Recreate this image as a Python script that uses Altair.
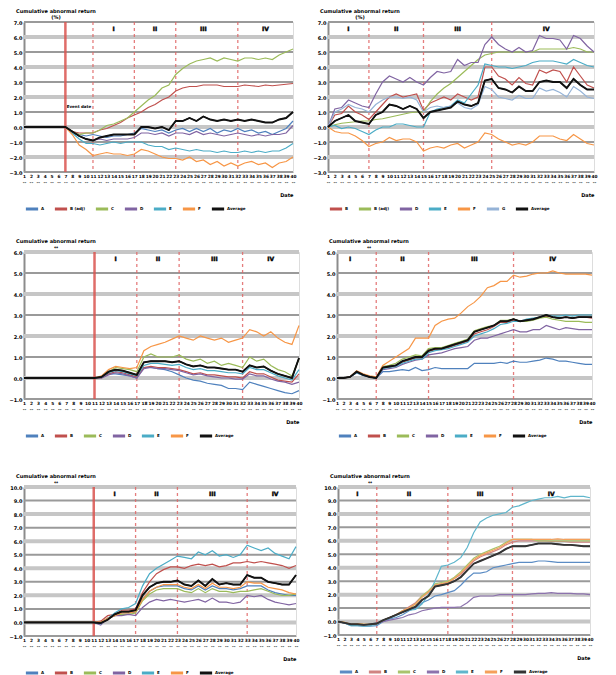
import altair as alt
import pandas as pd

FONT = "DejaVu Sans"
BLUE = "#4f81bd"; RED = "#c0504d"; GREEN = "#9bbb59"; PURPLE = "#8064a2"
CYAN = "#4bacc6"; ORANGE = "#f79646"; BLACK = "#111111"; LIGHTBLUE = "#95b3d7"

# ---------------- Panel 1 ----------------
p1_names = ["A", "B (adj)", "C", "D", "E", "F", "Average"]
p1_colors = [BLUE, RED, GREEN, PURPLE, CYAN, ORANGE, BLACK]
p1_A = [0,0,0,0,0,0,0, -0.3,-0.5,-0.6,-0.5,-0.6,-0.7,-0.6,-0.6,-0.5,-0.4,
        -0.1,-0.2,-0.3,-0.2,-0.4,-0.2,-0.1,-0.3,-0.1,-0.3,-0.1,-0.4,-0.2,-0.3,-0.1,-0.3,-0.2,-0.4,-0.3,-0.5,-0.3,-0.1,0.4]
p1_B = [0,0,0,0,0,0,0, -0.3,-0.4,-0.4,-0.4,-0.2,-0.1,0.1,0.3,0.6,0.8,
        1.0,1.3,1.5,1.8,2.0,2.4,2.6,2.7,2.7,2.8,2.8,2.8,2.7,2.7,2.7,2.8,2.75,2.7,2.8,2.75,2.8,2.85,2.9]
p1_C = [0,0,0,0,0,0,0, -0.3,-0.5,-0.4,-0.4,-0.2,0.1,0.2,0.4,0.6,1.0,
        1.4,1.8,2.1,2.6,2.8,3.5,3.9,4.2,4.4,4.5,4.6,4.4,4.6,4.5,4.4,4.6,4.6,4.5,4.6,4.5,4.8,5.0,5.2]
p1_D = [0,0,0,0,0,0,0, -0.3,-0.6,-0.8,-0.9,-0.8,-0.9,-0.8,-0.8,-0.8,-0.7,
        -0.4,-0.4,-0.5,-0.4,-0.6,-0.4,-0.4,-0.5,-0.3,-0.5,-0.4,-0.5,-0.6,-0.5,-0.4,-0.5,-0.6,-0.5,-0.6,-0.5,-0.5,-0.4,0.1]
p1_E = [0,0,0,0,0,0,0, -0.4,-0.8,-1.1,-1.1,-1.2,-1.1,-1.0,-1.1,-1.0,-1.0,
        -1.0,-1.2,-1.3,-1.3,-1.5,-1.4,-1.5,-1.6,-1.5,-1.6,-1.6,-1.7,-1.6,-1.7,-1.7,-1.6,-1.7,-1.6,-1.7,-1.6,-1.6,-1.4,-1.1]
p1_F = [0,0,0,0,0,0,0, -0.5,-1.2,-1.5,-1.9,-1.8,-1.7,-1.8,-1.8,-1.9,-1.8,
        -1.5,-1.6,-1.8,-2.0,-2.1,-2.1,-2.2,-2.0,-2.3,-2.2,-2.5,-2.3,-2.6,-2.4,-2.6,-2.4,-2.3,-2.5,-2.4,-2.7,-2.4,-2.3,-2.0]
p1_AVG = [0,0,0,0,0,0,0, -0.3,-0.6,-0.8,-0.9,-0.7,-0.6,-0.5,-0.5,-0.5,-0.5,
          0.0,0.0,-0.1,0.0,-0.2,0.4,0.4,0.6,0.4,0.7,0.5,0.4,0.5,0.4,0.5,0.4,0.5,0.4,0.3,0.3,0.5,0.6,1.0]

# ---------------- Panel 2 ----------------
p2_names = ["B", "B (adj)", "D", "E", "F", "G", "Average"]
p2_colors = [RED, GREEN, PURPLE, CYAN, ORANGE, LIGHTBLUE, BLACK]
p2_B = [0, 0.8,0.9,1.4,1.0,0.8,0.5, 1.0,1.5,2.0,2.2,2.0,2.1,2.2,1.1,
        1.6,1.8,2.0,1.8,2.2,2.0,1.8,2.0,4.0,4.0,
        3.4,3.2,2.8,3.3,2.9,2.8,3.8,3.6,3.8,3.7,3.0,4.0,3.4,2.8,2.6]
p2_C = [0, 0.15,0.25,0.3,0.35,0.4,0.4, 0.5,0.55,0.65,0.75,0.85,0.95,1.0,1.0,
        1.7,2.2,2.6,2.9,3.3,3.7,4.1,4.5,4.8,4.9,
        5.0,5.0,5.0,5.0,5.0,5.0,5.2,5.2,5.2,5.2,5.2,5.3,5.2,5.0,5.0]
p2_D = [0, 1.2,1.3,1.8,1.6,1.4,1.3, 2.2,3.0,3.4,3.2,3.0,3.3,3.0,2.8,
        3.3,3.7,3.6,3.7,4.5,4.1,4.3,4.3,5.5,6.0,
        5.5,5.2,5.0,5.3,5.0,5.1,6.1,5.9,5.9,5.8,5.2,6.1,5.9,5.4,5.0]
p2_E = [0, 0.1,-0.1,0.0,-0.1,-0.3,-0.5, -0.2,0.0,0.0,0.2,0.2,0.1,0.0,0.0,
        1.0,1.2,1.3,1.4,1.8,1.6,2.2,2.8,4.2,4.1,
        4.0,4.0,3.9,4.0,4.1,4.3,4.4,4.4,4.4,4.3,4.2,4.5,4.3,4.1,4.0]
p2_F = [0, -0.3,-0.4,-0.4,-0.6,-0.9,-1.3, -1.1,-1.0,-0.7,-0.9,-0.8,-0.8,-1.0,-1.6,
        -1.4,-1.3,-1.4,-1.2,-1.1,-1.4,-1.2,-1.0,-0.4,-0.5,
        -0.8,-1.0,-1.2,-1.1,-1.2,-1.0,-0.6,-0.6,-0.6,-0.8,-0.9,-0.5,-0.8,-1.1,-1.2]
p2_G = [0, 1.0,1.2,1.5,1.3,1.2,1.0, 1.5,1.8,2.0,2.0,1.9,2.0,1.8,1.0,
        1.3,1.4,1.3,1.4,1.6,1.3,1.2,1.5,2.7,2.5,
        2.0,1.9,1.8,2.1,1.9,1.9,2.6,2.4,2.5,2.3,2.0,2.7,2.4,2.0,1.9]
p2_AVG = [0, 0.4,0.6,0.8,0.4,0.3,0.2, 0.8,1.0,1.5,1.4,1.2,1.4,1.2,0.6,
          1.0,1.1,1.2,1.3,1.7,1.5,1.4,1.6,3.1,3.2,
          2.6,2.5,2.3,2.7,2.4,2.4,3.0,3.1,3.0,3.0,2.6,3.2,2.8,2.5,2.5]

# ---------------- Panel 3 ----------------
p3_names = ["A", "B", "C", "D", "E", "F", "Average"]
p3_colors = [BLUE, RED, GREEN, PURPLE, CYAN, ORANGE, BLACK]
Z11 = [0] * 11
p3_A = Z11 + [0.0,0.2,0.2,0.15,0.1,0.0, 0.5,0.5,0.45,0.4,0.3,0.15,
              0.0,-0.1,-0.15,-0.25,-0.3,-0.35,-0.5,-0.5,-0.55, -0.2,-0.3,-0.4,-0.5,-0.6,-0.7,-0.75,-0.6]
p3_B = Z11 + [0.0,0.2,0.3,0.25,0.15,0.05, 0.5,0.55,0.5,0.5,0.45,0.4,
              0.3,0.2,0.25,0.15,0.15,0.1,0.05,0.05,0.0, 0.3,0.2,0.2,0.05,-0.1,-0.15,-0.2,0.2]
p3_C = Z11 + [0.05,0.3,0.5,0.45,0.4,0.3, 1.0,1.15,1.0,1.0,1.0,1.1,
              0.9,0.8,0.9,0.7,0.8,0.6,0.7,0.6,0.5, 1.0,0.8,0.9,0.6,0.4,0.3,0.1,0.9]
p3_D = Z11 + [0.0,0.15,0.25,0.2,0.1,0.0, 0.45,0.5,0.45,0.45,0.4,0.35,
              0.25,0.15,0.2,0.1,0.05,0.0,0.0,-0.05,-0.05, 0.2,0.1,0.1,-0.05,-0.15,-0.2,-0.3,-0.2]
p3_E = Z11 + [0.05,0.25,0.35,0.3,0.2,0.1, 0.6,0.7,0.7,0.65,0.6,0.65,
              0.5,0.4,0.45,0.35,0.35,0.3,0.25,0.25,0.2, 0.5,0.4,0.4,0.25,0.1,0.0,-0.1,0.4]
p3_F = Z11 + [0.1,0.4,0.55,0.5,0.45,0.5, 1.3,1.5,1.6,1.7,1.85,2.0,
              1.9,1.8,2.0,1.9,1.8,1.9,1.7,1.8,1.9, 2.3,2.2,2.0,2.2,1.9,1.7,1.6,2.5]
p3_AVG = Z11 + [0.05,0.3,0.4,0.35,0.25,0.15, 0.75,0.8,0.8,0.8,0.75,0.8,
                0.65,0.55,0.6,0.5,0.5,0.45,0.4,0.4,0.3, 0.6,0.5,0.55,0.35,0.2,0.1,0.0,0.95]

# ---------------- Panel 4 ----------------
p4_names = ["A", "B", "C", "D", "E", "F", "Average"]
p4_colors = [BLUE, RED, GREEN, PURPLE, CYAN, ORANGE, BLACK]
p4_A = [0,0.0,0.05,0.25,0.12,0.05,0.0, 0.3,0.3,0.35,0.4,0.35,0.5,0.35,0.4,
        0.5,0.45,0.45,0.45,0.45,0.45,0.7,0.7,0.7,0.7,0.75,0.7,0.8,
        0.75,0.75,0.8,0.85,0.95,0.9,0.8,0.8,0.75,0.7,0.65,0.65]
p4_B = [0,0.0,0.05,0.28,0.14,0.05,0.0, 0.5,0.5,0.6,0.75,0.85,0.95,0.95,1.25,
        1.35,1.4,1.45,1.55,1.65,1.75,2.1,2.2,2.3,2.45,2.65,2.65,2.75,
        2.7,2.75,2.8,2.9,2.95,2.9,2.85,2.9,2.85,2.9,2.9,2.85]
p4_C = [0,0.0,0.05,0.3,0.15,0.05,0.0, 0.55,0.6,0.7,0.9,1.0,1.1,1.05,1.4,
        1.45,1.45,1.55,1.65,1.75,1.85,2.25,2.35,2.45,2.5,2.75,2.75,2.8,
        2.7,2.7,2.75,2.85,2.9,2.8,2.75,2.7,2.7,2.7,2.65,2.65]
p4_D = [0,0.0,0.05,0.25,0.12,0.05,0.0, 0.4,0.45,0.5,0.65,0.75,0.85,0.9,1.1,
        1.15,1.2,1.3,1.4,1.45,1.5,1.8,1.9,1.9,2.0,2.1,2.2,2.3,
        2.2,2.2,2.3,2.3,2.5,2.4,2.3,2.4,2.35,2.3,2.3,2.3]
p4_E = [0,0.0,0.05,0.25,0.12,0.05,0.0, 0.45,0.5,0.55,0.7,0.8,0.9,0.9,1.2,
        1.3,1.35,1.4,1.5,1.6,1.7,2.0,2.1,2.2,2.35,2.55,2.6,2.7,
        2.7,2.8,2.85,2.9,3.0,2.95,2.95,3.0,2.95,3.0,3.0,3.0]
p4_F = [0,0.0,0.05,0.35,0.2,0.1,0.05, 0.6,0.8,1.0,1.2,1.4,1.9,1.9,1.9,
        2.5,2.7,2.8,2.85,3.1,3.4,3.6,3.9,4.3,4.4,4.6,4.6,4.9,
        4.8,4.85,4.95,5.0,5.0,5.1,5.0,4.95,4.95,4.95,4.95,4.9]
p4_AVG = [0,0.0,0.05,0.3,0.15,0.05,0.0, 0.5,0.55,0.6,0.8,0.9,1.0,1.0,1.3,
          1.4,1.4,1.5,1.6,1.7,1.8,2.2,2.3,2.4,2.5,2.7,2.7,2.8,
          2.7,2.75,2.8,2.9,3.0,2.9,2.85,2.9,2.85,2.9,2.9,2.9]

# ---------------- Panel 5 ----------------
p5_names = ["A", "B", "C", "D", "E", "F", "Average"]
p5_colors = [BLUE, RED, GREEN, PURPLE, CYAN, ORANGE, BLACK]
p5_A = Z11 + [0.0,0.3,0.5,0.7,0.7,0.75, 1.7,2.3,2.6,2.7,2.7,2.7,
              2.5,2.4,2.7,2.4,2.7,2.5,2.5,2.4,2.5,2.7, 2.7,2.7,2.4,2.2,2.1,2.0,2.0]
p5_B = Z11 + [0.1,0.5,0.6,0.9,0.9,1.0, 2.2,3.0,3.6,3.9,4.1,4.1,
              4.0,4.2,4.3,4.2,4.3,4.1,4.2,4.4,4.4,4.5, 4.4,4.5,4.4,4.3,4.2,4.0,4.2]
p5_C = Z11 + [0.0,0.3,0.5,0.6,0.6,0.7, 1.6,2.1,2.4,2.5,2.5,2.5,
              2.3,2.2,2.5,2.2,2.5,2.3,2.3,2.2,2.3,2.3, 2.4,2.5,2.3,2.1,2.0,2.0,2.1]
p5_D = Z11 + [-0.2,0.3,0.5,0.5,0.6,0.5, 1.1,1.5,1.7,1.6,1.7,1.6,
              1.5,1.6,1.7,1.5,1.8,1.5,1.5,1.4,1.5,2.0, 1.9,2.0,1.7,1.5,1.4,1.3,1.4]
p5_E = Z11 + [-0.1,0.3,0.7,1.0,1.1,1.4, 2.7,3.6,4.0,4.3,4.6,4.9,
              4.8,4.7,5.2,5.0,5.3,4.9,5.0,4.8,5.0,5.7, 5.5,5.3,5.5,5.1,4.9,4.7,5.6]
p5_F = Z11 + [0.0,0.3,0.5,0.7,0.7,0.8, 1.7,2.3,2.6,2.8,2.8,2.8,
              2.6,2.5,2.8,2.5,2.9,2.6,2.6,2.5,2.6,3.0, 2.9,2.9,2.6,2.5,2.4,2.2,2.1]
p5_AVG = Z11 + [-0.05,0.2,0.6,0.8,0.8,0.9, 2.0,2.6,2.9,3.0,3.0,3.1,
                2.8,2.7,3.1,2.7,3.2,2.8,2.9,2.8,2.8,3.5, 3.3,3.3,3.0,2.9,2.8,2.8,3.5]

# ---------------- Panel 6 ----------------
p6_names = ["A", "B", "C", "D", "E", "F", "Average"]
p6_colors = ["#5b8cc4", "#d08482", "#a9c46c", "#8c72ad", "#5fb6cc", "#f5a05a", "#333333"]
p6_A = [0,-0.1,-0.3,-0.3,-0.35,-0.35,-0.3, 0.0,0.2,0.3,0.5,0.8,1.0,1.4,1.6,1.9,2.0,2.15,
        2.3,2.7,3.2,3.6,3.6,3.7,4.0,4.1,4.2,4.3,
        4.4,4.4,4.4,4.5,4.5,4.45,4.4,4.4,4.4,4.4,4.4,4.4]
p6_B = [0,-0.05,-0.2,-0.15,-0.2,-0.2,-0.15, 0.1,0.3,0.5,0.8,1.1,1.4,1.9,2.2,2.7,2.8,2.9,
        3.2,3.5,4.0,4.5,4.8,5.0,5.2,5.4,5.7,5.9,
        6.0,6.0,6.0,6.0,6.0,5.95,5.95,5.95,5.9,5.9,5.9,5.9]
p6_C = [0,-0.05,-0.2,-0.15,-0.2,-0.2,-0.15, 0.1,0.3,0.5,0.8,1.0,1.3,1.9,2.3,2.8,2.9,3.0,
        3.3,3.7,4.2,4.7,5.0,5.2,5.4,5.6,5.9,6.1,
        6.1,6.1,6.1,6.0,6.0,6.0,6.0,6.0,6.0,6.0,6.0,6.0]
p6_D = [0,-0.1,-0.2,-0.2,-0.25,-0.2,-0.1, 0.0,0.1,0.2,0.3,0.5,0.6,0.8,0.9,1.0,1.05,1.05,
        1.05,1.1,1.4,1.8,1.9,1.9,1.9,2.0,2.0,2.0,
        2.0,2.0,2.05,2.1,2.1,2.15,2.1,2.1,2.1,2.05,2.05,2.0]
p6_E = [0,-0.1,-0.3,-0.3,-0.35,-0.3,-0.2, 0.1,0.25,0.45,0.7,0.85,0.9,1.3,2.0,3.0,4.1,4.2,
        4.4,4.75,5.5,6.6,7.4,7.7,7.9,8.0,8.1,8.5,
        8.6,8.8,9.0,9.1,9.2,9.2,9.3,9.2,9.3,9.3,9.3,9.2]
p6_F = [0,-0.05,-0.2,-0.15,-0.2,-0.2,-0.15, 0.1,0.3,0.5,0.8,1.0,1.3,1.8,2.2,2.7,2.8,2.9,
        3.2,3.6,4.1,4.6,4.9,5.1,5.3,5.5,5.8,6.1,
        6.1,6.1,6.1,6.1,6.1,6.1,6.15,6.1,6.1,6.1,6.1,6.1]
p6_AVG = [0,-0.1,-0.2,-0.2,-0.25,-0.2,-0.15, 0.1,0.3,0.5,0.7,0.9,1.1,1.6,1.9,2.6,2.7,2.8,
          3.0,3.3,3.8,4.3,4.5,4.7,4.9,5.1,5.4,5.6,
          5.6,5.6,5.7,5.8,5.8,5.8,5.75,5.7,5.7,5.65,5.6,5.6]

TITLE1 = "Cumulative abnormal return"
SEG = ["I", "II", "III", "IV"]


def panel(names, colors, series, ymin, ymax, event, dashed, seg_pos, width, height,
          title, note=False):
    n = len(series[0])
    rows = []
    for name, vals in zip(names, series):
        for t, v in enumerate(vals):
            rows.append({"t": t, "series": name, "v": v})
    df = pd.DataFrame(rows)
    ticks = list(range(ymin, ymax + 1))
    X = alt.X("t:Q", scale=alt.Scale(domain=[0, n - 1], nice=False, zero=False),
              axis=alt.Axis(values=list(range(n)), labelExpr="[format(datum.value + 1, 'd'), '--']",
                            labelFontSize=4.3, labelFont=FONT, labelFontWeight="bold", labelColor="#000",
                            labelAngle=0, labelOverlap=False, labelFlush=False, labelBound=False,
                            labelPadding=2, ticks=False, grid=False, domainColor="#b0b0b0",
                            domainWidth=1, title="Date", titleAnchor="end", titleFontSize=5,
                            titleFont=FONT, titleFontWeight="bold", titlePadding=8))
    Y = alt.Y("v:Q", scale=alt.Scale(domain=[ymin, ymax], nice=False, zero=False),
              axis=alt.Axis(values=ticks, format=".1f", labelFontSize=5, labelFont=FONT,
                            labelFontWeight="bold", labelColor="#000", labelPadding=2, ticks=False,
                            grid=False, domainColor="#8c8c8c", domainWidth=2, title=None))
    dark = pd.DataFrame({"v": ticks[::2]})
    light = pd.DataFrame({"v": ticks[1::2]})
    band_l = alt.Chart(light).mark_rule(color="#c6c6c6", strokeWidth=4).encode(y=Y)
    band_d = alt.Chart(dark).mark_rule(color="#9a9a9a", strokeWidth=2).encode(y=Y)
    layers = [band_l, band_d]
    if event is not None:
        layers.append(alt.Chart(pd.DataFrame({"t": [event]})).mark_rule(
            color="#d9534f", strokeWidth=2.5, opacity=0.85).encode(x=X))
    layers.append(alt.Chart(pd.DataFrame({"t": dashed})).mark_rule(
        color="#e06666", strokeWidth=1.3, strokeDash=[3, 3], opacity=0.85).encode(x=X))
    C = alt.Color("series:N", scale=alt.Scale(domain=names, range=colors),
                  legend=alt.Legend(orient="bottom", direction="horizontal", title=None,
                                    symbolType="stroke", symbolStrokeWidth=3, symbolSize=150,
                                    labelFontSize=4, labelFont=FONT, labelFontWeight="bold",
                                    labelOffset=1, columns=7, columnPadding=3, padding=0, offset=3))
    base = alt.Chart(df)
    layers.append(base.mark_line(strokeWidth=1.2).encode(x=X, y=Y, color=C, order=alt.Order("t:Q")))
    layers.append(base.transform_filter(alt.datum.series == names[-1]).mark_line(strokeWidth=1.9)
                  .encode(x=X, y=Y, color=C, order=alt.Order("t:Q")))
    seg_df = pd.DataFrame({"t": seg_pos, "v": [ymax - 0.45 * (ymax - ymin) / 10] * len(seg_pos),
                           "s": SEG[:len(seg_pos)]})
    layers.append(alt.Chart(seg_df).mark_text(fontSize=6, fontWeight="bold", font=FONT,
                                              fill="#000000", stroke="#000000", strokeWidth=0.4)
                  .encode(x=X, y=Y, text="s:N"))
    if note:
        note_df = pd.DataFrame({"t": [event + 0.2], "v": [1.35], "s": ["Event date"]})
        layers.append(alt.Chart(note_df).mark_text(fontSize=4, fontWeight="bold", font=FONT,
                                                   align="left", fill="#000000").encode(
            x=X, y=Y, text="s:N"))
    return alt.layer(*layers).properties(
        width=width, height=height,
        title=alt.TitleParams(text=title, fontSize=5, font=FONT, fontWeight="bold",
                              anchor="start", frame="group", dx=32, align="center",
                              lineHeight=6, offset=0))


p1 = panel(p1_names, p1_colors, [p1_A, p1_B, p1_C, p1_D, p1_E, p1_F, p1_AVG],
           -3, 7, 6, [10, 16, 22, 31], [13, 19, 26, 35], 269, 150, [TITLE1, "(%)"], note=True)
p2 = panel(p2_names, p2_colors, [p2_B, p2_C, p2_D, p2_E, p2_F, p2_G, p2_AVG],
           -3, 7, None, [6, 14, 24], [3, 10, 19, 32], 266, 150, [TITLE1, "(%)"])
p3 = panel(p3_names, p3_colors, [p3_A, p3_B, p3_C, p3_D, p3_E, p3_F, p3_AVG],
           -1, 6, 10, [16, 22, 31], [13, 19, 27, 35], 275, 147, [TITLE1, "\u2194"])
p4 = panel(p4_names, p4_colors, [p4_A, p4_B, p4_C, p4_D, p4_E, p4_F, p4_AVG],
           -1, 6, None, [6, 14, 27], [2, 10, 21, 33], 255, 147, [TITLE1, "\u2194"])
p5 = panel(p5_names, p5_colors, [p5_A, p5_B, p5_C, p5_D, p5_E, p5_F, p5_AVG],
           -1, 10, 10, [16, 22, 32], [13, 19, 27, 36], 272, 149, [TITLE1, "\u2194"])
p6 = panel(p6_names, p6_colors, [p6_A, p6_B, p6_C, p6_D, p6_E, p6_F, p6_AVG],
           -1, 10, None, [6, 17, 27], [3, 11, 22, 33], 252, 148, [TITLE1, "\u2194"])

res = dict(x="independent", y="independent", color="independent")
row1 = alt.hconcat(p1, p2, spacing=14).resolve_scale(**res)
row2 = alt.hconcat(p3, p4, spacing=17).resolve_scale(**res)
row3 = alt.hconcat(p5, p6, spacing=21).resolve_scale(**res)
top = alt.vconcat(row1, row2, spacing=22).resolve_scale(**res)
chart = alt.vconcat(top, row3, spacing=30).resolve_scale(**res).properties(
    padding=0).configure_view(strokeWidth=0).configure(background="white")

chart.save("out.html", embed_options={"renderer": "svg", "actions": False})
